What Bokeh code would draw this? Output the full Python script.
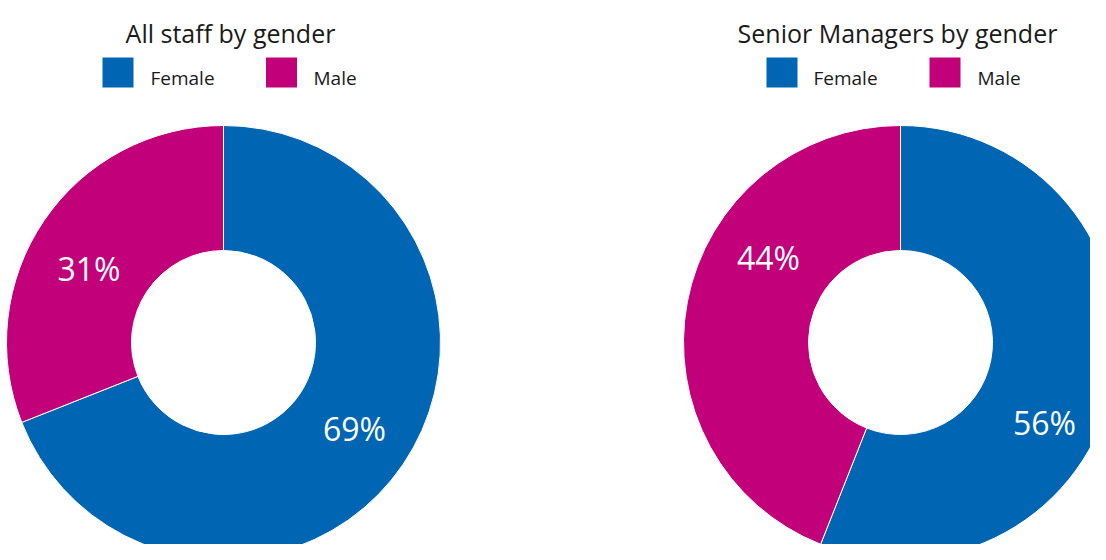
import numpy as np
from bokeh.plotting import figure
from bokeh.models import Range1d
from bokeh.core.properties import value
from bokeh.embed import file_html
from bokeh.resources import INLINE

# ---- data ----
categories = ["Female", "Male"]
colors = ["#0066B3", "#C1007A"]
chart_titles = ["All staff by gender", "Senior Managers by gender"]
all_staff = [69, 31]
senior_managers = [56, 44]
series = [all_staff, senior_managers]

# ---- layout (picture pixel coordinates, y downward) ----
W, H = 1090, 544
OUTER_R, INNER_R = 217, 92
layout = [
    dict(cx=223, cy=342, title_x=230,
         legend_sq=[117.5, 281], legend_tx=[150, 313],
         label_pos=[(354, 428), (88.5, 268)]),
    dict(cx=900, cy=342, title_x=897,
         legend_sq=[781.5, 944.5], legend_tx=[813, 977],
         label_pos=[(1044, 422), (768, 257)]),
]

p = figure(width=W, height=H, x_range=Range1d(0, W), y_range=Range1d(-H, 0),
           output_backend="svg", toolbar_location=None, min_border=0)
p.xaxis.visible = False
p.yaxis.visible = False
p.xgrid.visible = False
p.ygrid.visible = False
p.outline_line_color = None
p.background_fill_color = "white"
p.border_fill_color = "white"

font = value("Open Sans")

for vals, title, lay in zip(series, chart_titles, layout):
    v = np.array(vals, dtype=float)
    frac = v / v.sum()
    cum = np.cumsum(frac)
    start = 90 - 360 * (cum - frac)
    end = 90 - 360 * cum
    p.annular_wedge(x=[lay["cx"]] * len(v), y=[-lay["cy"]] * len(v),
                    inner_radius=INNER_R, outer_radius=OUTER_R,
                    start_angle=list(start), end_angle=list(end), start_angle_units="deg",
                    end_angle_units="deg", direction="clock",
                    fill_color=colors, line_color="white", line_width=1)
    # percentage labels
    p.text(x=[pt[0] for pt in lay["label_pos"]], y=[-pt[1] for pt in lay["label_pos"]],
           text=[f"{int(round(x))}%" for x in vals], text_font=font, text_font_size="32px",
           text_color="white", text_align="center", text_baseline="middle")
    # title
    p.text(x=[lay["title_x"]], y=[-32], text=[title], text_font=font, text_font_size="25px",
           text_color="#1a1a1a", text_align="center", text_baseline="alphabetic")
    # legend
    p.rect(x=lay["legend_sq"], y=[-72] * 2, width=31, height=30, fill_color=colors, line_color=None)
    p.text(x=lay["legend_tx"], y=[-77] * 2, text=categories, text_font=font, text_font_size="19px",
           text_color="#1a1a1a", text_align="left", text_baseline="alphabetic")

open("out.html", "w").write(file_html(p, INLINE))
